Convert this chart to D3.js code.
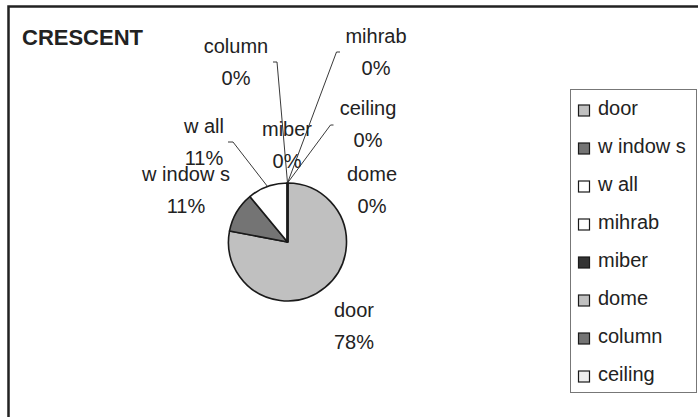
<!DOCTYPE html>
<html>
<head>
<meta charset="utf-8">
<script src="https://cdn.jsdelivr.net/npm/d3@7"></script>
<style>
  html, body { margin: 0; padding: 0; background: #fff; }
  svg { display: block; font-family: Arial, "Liberation Sans", sans-serif; }
</style>
</head>
<body>
<svg id="chart" width="698" height="417"></svg>
<script>
// Building elements counted for the CRESCENT motif (share of occurrences, %)
const categories = ["door", "windows", "wall", "mihrab", "miber", "dome", "column", "ceiling"];
const labelText  = ["door", "w indow s", "w all", "mihrab", "miber", "dome", "column", "ceiling"];
const values     = [78, 11, 11, 0, 0, 0, 0, 0];
const title      = "CRESCENT";

// Slice fills, in category order
const fills = ["#c0c0c0", "#747474", "#ffffff", "#ffffff", "#333333", "#c0c0c0", "#747474", "#eeeeee"];

// Label anchors (centre x, baseline of the name line) and leader tick ends
const labelLayout = {
  door:    { x: 354, y: 317 },
  windows: { x: 186, y: 181 },
  wall:    { x: 204, y: 133, leader: [[228, 142], [233, 142]] },
  mihrab:  { x: 376, y: 43,  leader: [[340, 52], [336.5, 52]] },
  miber:   { x: 287, y: 136 },
  dome:    { x: 372, y: 181 },
  column:  { x: 236, y: 53,  leader: [[273, 62], [277, 62]] },
  ceiling: { x: 368, y: 115, leader: [[333.5, 125], [330.5, 125]] }
};

const svg = d3.select("#chart");
const W = 698, H = 417;

// Outer chart frame (open to the right and bottom edges)
svg.append("path")
  .attr("d", `M8.5,${H + 5} L8.5,6.5 L${W + 5},6.5`)
  .attr("fill", "none")
  .attr("stroke", "#222")
  .attr("stroke-width", 2.5);

// Title
svg.append("text")
  .attr("x", 22).attr("y", 45)
  .attr("font-size", 22).attr("font-weight", "bold")
  .attr("fill", "#222")
  .text(title);

// Pie
const cx = 287.5, cy = 242, r = 59;
const data = categories.map((c, i) => ({ key: c, label: labelText[i], value: values[i], fill: fills[i] }));
const total = d3.sum(values);
const pie = d3.pie().value(d => d.value).sort(null).startAngle(0).endAngle(2 * Math.PI);
const arcs = pie(data);
const arc = d3.arc().innerRadius(0).outerRadius(r);
const rim = d3.arc().innerRadius(r).outerRadius(r);

const g = svg.append("g").attr("transform", `translate(${cx},${cy})`);
g.selectAll("path.slice")
  .data(arcs)
  .join("path")
  .attr("class", "slice")
  .attr("d", arc)
  .attr("fill", d => d.data.fill)
  .attr("stroke", "#1a1a1a")
  .attr("stroke-width", 1.6)
  .attr("stroke-linejoin", "round");

// Leader lines from label ticks to the middle of each slice's rim
const leaders = arcs.filter(d => labelLayout[d.data.key].leader);
svg.selectAll("path.leader")
  .data(leaders)
  .join("path")
  .attr("class", "leader")
  .attr("fill", "none")
  .attr("stroke", "#222")
  .attr("stroke-width", 0.9)
  .attr("d", d => {
    const L = labelLayout[d.data.key].leader;
    const m = (d.startAngle + d.endAngle) / 2;
    const px = cx + r * Math.sin(m), py = cy - r * Math.cos(m);
    return d3.line()([L[0], L[1], [px, py]]);
  });

// Data labels: name and percentage
const pct = d3.format(".0%");
const labels = svg.selectAll("g.label")
  .data(arcs)
  .join("g")
  .attr("class", "label")
  .attr("font-size", 20)
  .attr("fill", "#222")
  .attr("text-anchor", "middle");
labels.append("text")
  .attr("x", d => labelLayout[d.data.key].x)
  .attr("y", d => labelLayout[d.data.key].y)
  .text(d => d.data.label);
labels.append("text")
  .attr("x", d => labelLayout[d.data.key].x)
  .attr("y", d => labelLayout[d.data.key].y + 32)
  .text(d => pct(d.data.value / total));

// Legend
const lg = svg.append("g");
lg.append("rect")
  .attr("x", 570.5).attr("y", 89.5)
  .attr("width", 126).attr("height", 303)
  .attr("fill", "#fff")
  .attr("stroke", "#777")
  .attr("stroke-width", 1);
const rowY = d3.scalePoint().domain(categories).range([115, 381]);
const item = lg.selectAll("g.item")
  .data(data)
  .join("g")
  .attr("class", "item")
  .attr("transform", d => `translate(0,${rowY(d.key)})`);
item.append("rect")
  .attr("x", 578.5).attr("y", -10)
  .attr("width", 11).attr("height", 11)
  .attr("fill", d => d.fill)
  .attr("stroke", "#1a1a1a")
  .attr("stroke-width", 1.2);
item.append("text")
  .attr("x", 598).attr("y", 0)
  .attr("font-size", 20)
  .attr("fill", "#222")
  .text(d => d.label);
</script>
</body>
</html>
